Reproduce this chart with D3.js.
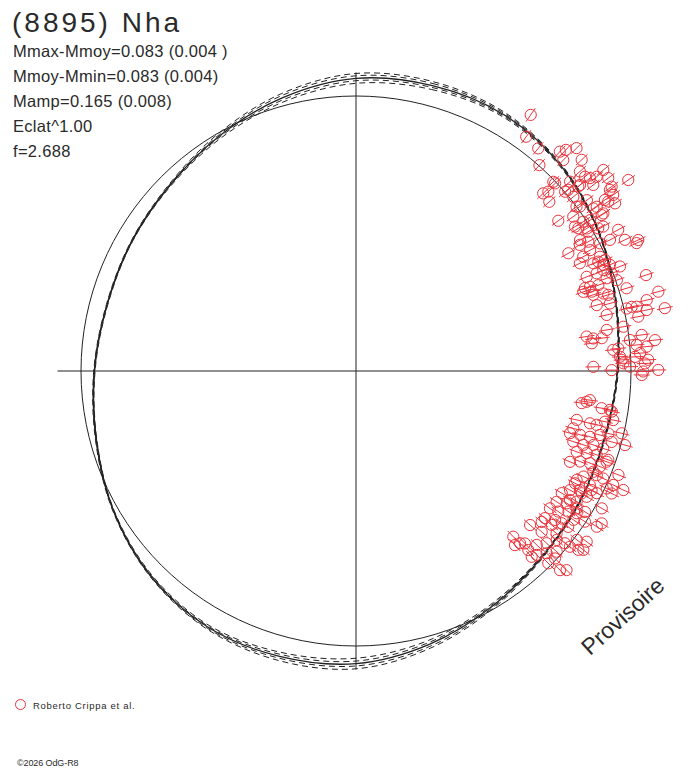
<!DOCTYPE html>
<html>
<head>
<meta charset="utf-8">
<script src="https://cdn.jsdelivr.net/npm/d3@7"></script>
<style>
  body { margin: 0; background: #fff; }
  svg text { font-family: "Liberation Sans", Arial, sans-serif; fill: #2a2a2a; }
</style>
</head>
<body>
<div id="chart"></div>
<script>
// rotational phase in degrees (0 = top, clockwise) and magnitude offset vs mean
const obsPhase = [34.3,36.0,39.3,41.7,42.9,43.5,44.7,44.5,46.9,46.2,46.5,48.8,53.4,49.5,48.3,50.5,50.9,52.6,54.95,54.2,
  51.9,50.3,51.3,53.7,53.5,55.7,56.1,55.6,57.1,57.5,57.2,54.6,57.3,59.05,59.7,61.7,64.0,65.1,65.5,62.7,
  62.4,59.7,60.6,62.7,61.0,63.3,64.9,66.8,67.3,68.4,64.3,65.6,71.7,67.8,67.9,69.7,70.8,73.0,70.2,70.8,
  72.2,72.6,75.1,74.7,77.4,77.1,76.3,75.3,78.5,78.15,79.1,77.0,81.5,82.2,82.4,80.7,83.55,82.8,84.1,85.3,
  85.1,86.4,85.2,84.7,88.35,89.1,89.0,89.8,88.5,89.8,90.1,86.9,90.8,97.1,
  60.9,65.7,66.0,67.8,69.1,70.1,71.4,70.5,73.2,76.9,83.3,80.6,87.1,87.8,87.6,
  49.7,51.1,54.5,55.5,50.3,48.5,49.4,53.3,55.6,57.6,56.7,56.6,58.3,59.5,46.7,47.0,
  97.6,98.1,98.6,98.7,102.5,104.8,102.6,102.6,101.5,100.8,106.2,105.9,105.7,104.7,103.9,103.2,105.4,108.0,108.0,107.3,
  107.4,110.1,109.6,109.2,113.0,112.0,111.5,111.4,109.4,113.0,114.9,116.3,113.5,111.6,113.9,114.0,115.1,116.0,118.0,119.1,
  120.7,118.6,116.9,120.6,122.1,123.1,125.3,124.8,123.5,122.8,119.2,121.8,122.9,131.5,129.1,128.2,130.9,126.5,126.3,129.0,
  136.5,136.4,137.6,135.6,133.9,132.1,130.1,129.5,127.4,126.5,128.2,135.5,133.7,132.0,129.4,135.0,133.3,134.3,133.4,128.8,
  136.6,99.0,105.5,109.9,
  113.4,117.15,116.8,115.6,118.45,121.1,121.9,121.6,127.9,126.8,124.4,123.35,136.1];
const obsMag = [0.149,0.062,0.054,0.003,0.104,0.127,0.164,0.088,0.145,-0.007,-0.072,-0.077,-0.098,0.017,0.106,0.120,0.186,0.181,0.245,0.171,
  0.113,0.069,0.015,0.012,0.052,0.070,0.123,0.156,0.143,0.078,0.015,-0.036,-0.046,-0.018,0.048,0.097,0.103,0.154,0.142,0.046,
  0.002,-0.066,-0.077,-0.049,-0.137,-0.088,-0.024,-0.025,0.001,0.038,-0.113,-0.061,0.130,-0.110,-0.065,-0.033,0.005,0.034,-0.112,-0.146,
  -0.110,-0.067,-0.052,-0.108,-0.077,0.055,0.103,0.160,0.171,0.094,0.053,0.012,-0.178,-0.151,-0.115,-0.089,0.003,0.055,0.109,-0.072,
  -0.050,0.041,0.071,0.029,-0.032,-0.004,-0.160,-0.082,0.060,0.116,0.052,-0.045,0.046,-0.167,
  -0.039,-0.039,-0.010,-0.034,-0.006,-0.134,-0.112,-0.076,-0.049,0.034,-0.160,-0.017,0.019,0.074,-0.039,
  0.108,0.146,0.157,0.115,0.059,0.046,0.002,0.000,0.054,0.068,-0.013,-0.054,-0.016,0.026,-0.006,-0.051,
  -0.180,-0.200,-0.113,-0.077,-0.208,-0.214,-0.150,-0.121,-0.089,-0.056,-0.222,-0.179,-0.136,-0.097,-0.064,-0.009,0.017,-0.198,-0.153,-0.112,
  -0.068,-0.170,-0.128,-0.086,-0.181,-0.142,-0.100,-0.055,-0.032,-0.073,-0.103,-0.123,-0.023,0.031,0.027,0.075,0.008,-0.063,-0.091,-0.128,
  -0.152,-0.052,-0.021,-0.079,-0.111,-0.151,-0.159,-0.122,-0.086,-0.053,0.028,0.060,0.050,-0.181,-0.152,-0.111,-0.125,-0.081,-0.050,-0.072,
  -0.198,-0.158,-0.167,-0.143,-0.103,-0.077,-0.054,-0.018,0.013,0.051,0.061,-0.073,-0.048,-0.021,0.008,-0.013,-0.007,0.043,0.063,0.044,
  -0.082,-0.068,-0.041,-0.036,
  -0.054,-0.123,-0.047,0.036,-0.078,-0.107,-0.064,-0.026,-0.151,-0.112,-0.049,-0.004,-0.113];
const obsErr = 0.034;

// Fourier fit and its uncertainty curves (mag vs phase)
const fitPhase = [0,15,30,45,60,75,90,105,120,135,150,165,180,195,210,225,240,255,270,285,300,315,330,345];
const fitMag  = [0.075,0.087,0.089,0.064,0.021,-0.026,-0.057,-0.074,-0.068,-0.051,-0.013,0.034,0.075,0.087,0.089,0.064,0.021,-0.026,-0.057,-0.074,-0.068,-0.051,-0.013,0.034];
const fitMagA = [0.096,0.104,0.099,0.069,0.024,-0.023,-0.054,-0.071,-0.065,-0.046,-0.003,0.051,0.097,0.105,0.098,0.068,0.024,-0.023,-0.054,-0.071,-0.065,-0.046,-0.002,0.052];
const fitMagB = [0.086,0.096,0.094,0.067,0.023,-0.025,-0.056,-0.073,-0.067,-0.049,-0.008,0.043,0.085,0.095,0.094,0.066,0.022,-0.025,-0.056,-0.073,-0.067,-0.049,-0.008,0.044];
const fitMagC = [0.065,0.079,0.084,0.062,0.020,-0.028,-0.059,-0.076,-0.070,-0.054,-0.018,0.026,0.064,0.078,0.085,0.061,0.020,-0.028,-0.058,-0.075,-0.070,-0.053,-0.018,0.025];
const fitMagD = [0.054,0.070,0.079,0.059,0.018,-0.029,-0.060,-0.077,-0.071,-0.056,-0.023,0.017,0.052,0.069,0.080,0.058,0.018,-0.029,-0.060,-0.077,-0.071,-0.056,-0.024,0.016];

const infoLines = ["Mmax-Mmoy=0.083 (0.004 )", "Mmoy-Mmin=0.083 (0.004)", "Mamp=0.165 (0.008)", "Eclat^1.00", "f=2.688"];

const width = 688, height = 768,
      cx = 356, cy = 371;

const svg = d3.select("#chart").append("svg")
    .attr("width", width)
    .attr("height", height);

let angle = d3.scaleLinear().domain([0, 360]).range([0, 2 * Math.PI]);
let r = d3.scaleLinear().domain([0, 0.1]).range([275, 298.5]); // mean mag sits on the reference circle

const plot = svg.append("g").attr("transform", `translate(${cx},${cy})`);

// axes through the centre
const rMax = r(0.1);
plot.append("line").attr("x1", -rMax).attr("x2", rMax).attr("y1", 0).attr("y2", 0)
    .attr("stroke", "#222").attr("stroke-width", 1);
plot.append("line").attr("x1", 0).attr("x2", 0).attr("y1", -rMax).attr("y2", rMax)
    .attr("stroke", "#222").attr("stroke-width", 1);

// reference circle (mean magnitude)
plot.append("circle").attr("r", r(0)).attr("fill", "none")
    .attr("stroke", "#222").attr("stroke-width", 1);

let radial = d3.lineRadial()
    .angle(d => angle(d[0]))
    .radius(d => r(d[1]))
    .curve(d3.curveCatmullRomClosed);

for (let m of [fitMagA, fitMagB, fitMagC, fitMagD]) {
    plot.append("path")
        .attr("d", radial(fitPhase.map((p, i) => [p, m[i]])))
        .attr("fill", "none")
        .attr("stroke", "#222")
        .attr("stroke-width", 1)
        .attr("stroke-dasharray", "6,4");
}
plot.append("path")
    .attr("d", radial(fitPhase.map((p, i) => [p, fitMag[i]])))
    .attr("fill", "none")
    .attr("stroke", "#222")
    .attr("stroke-width", 1.3);

// observations
const obs = obsPhase.map((p, i) => ({ phase: p, mag: obsMag[i] }));
const red = "#e8343c";

let pt = plot.selectAll(".obs")
    .data(obs)
    .join("g")
    .attr("class", "obs");

pt.append("line")
    .attr("x1", d => d3.pointRadial(angle(d.phase), r(d.mag - obsErr))[0])
    .attr("y1", d => d3.pointRadial(angle(d.phase), r(d.mag - obsErr))[1])
    .attr("x2", d => d3.pointRadial(angle(d.phase), r(d.mag + obsErr))[0])
    .attr("y2", d => d3.pointRadial(angle(d.phase), r(d.mag + obsErr))[1])
    .attr("stroke", red).attr("stroke-width", 1);

pt.append("circle")
    .attr("cx", d => d3.pointRadial(angle(d.phase), r(d.mag))[0])
    .attr("cy", d => d3.pointRadial(angle(d.phase), r(d.mag))[1])
    .attr("r", 5.6)
    .attr("fill", "none")
    .attr("stroke", red).attr("stroke-width", 1);

// header texts
svg.append("text").attr("x", 12).attr("y", 31.5)
    .style("font-size", "28px").style("letter-spacing", "3px")
    .text("(8895) Nha");

svg.selectAll(".info")
    .data(infoLines)
    .join("text")
    .attr("class", "info")
    .attr("x", 13)
    .attr("y", (d, i) => 57 + i * 25)
    .style("font-size", "16.5px")
    .style("letter-spacing", "0.3px")
    .text(d => d);

// watermark
svg.append("text")
    .attr("transform", "translate(628,622) rotate(-42)")
    .attr("text-anchor", "middle")
    .style("font-size", "23px")
    .text("Provisoire");

// legend
svg.append("circle").attr("cx", 20.5).attr("cy", 704.5).attr("r", 5)
    .attr("fill", "none").attr("stroke", red).attr("stroke-width", 1);
svg.append("text").attr("x", 33).attr("y", 709)
    .style("font-size", "9.5px").style("letter-spacing", "0.7px")
    .text("Roberto Crippa et al.");

svg.append("text").attr("x", 17).attr("y", 766)
    .style("font-size", "9px").style("letter-spacing", "-0.1px")
    .text("©2026 OdG-R8");
</script>
</body>
</html>
